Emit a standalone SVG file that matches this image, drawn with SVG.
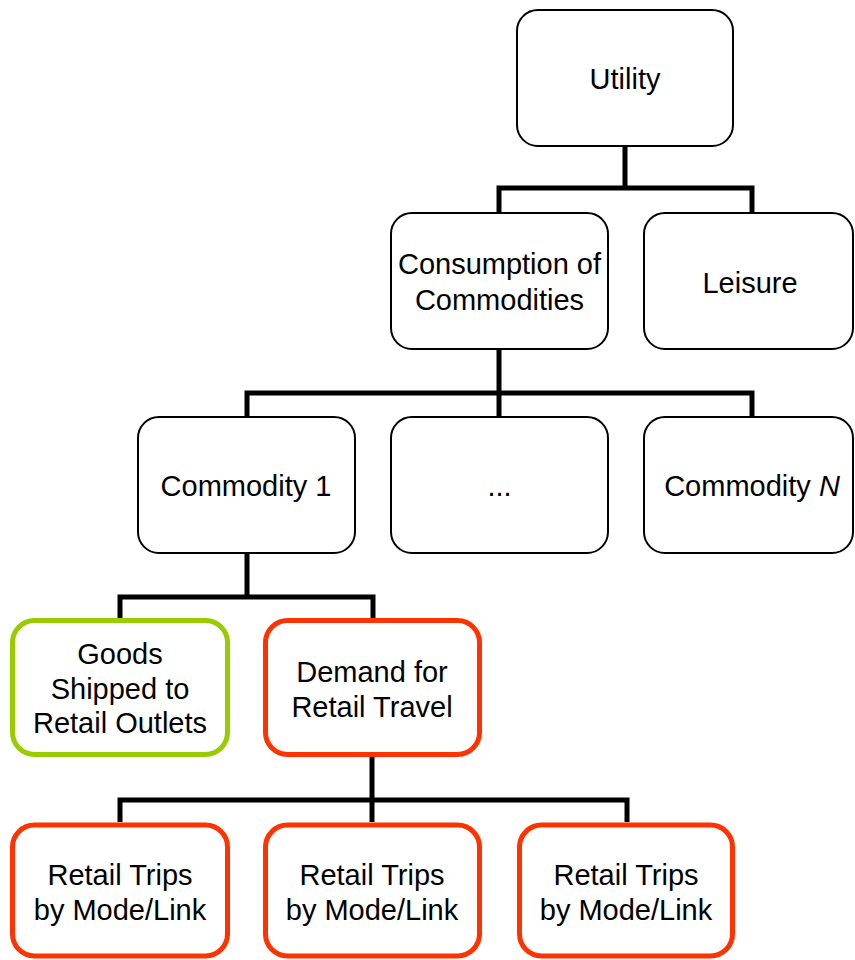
<svg xmlns="http://www.w3.org/2000/svg" width="855" height="960" viewBox="0 0 855 960">
<style>
.n{fill:#fff;stroke:#000;stroke-width:2}
.g{fill:#fff;stroke:#99CC00;stroke-width:5}
.r{fill:#fff;stroke:#FF3300;stroke-width:5}
.c{fill:none;stroke:#000;stroke-width:5;stroke-linejoin:miter;stroke-linecap:butt}
text{font-family:"Liberation Sans",Arial,sans-serif;font-size:29px;fill:#000;text-anchor:middle}
</style>
<rect width="855" height="960" fill="#fff"/>
<g id="connectors">
<path class="c" d="M625,146V188M499,213V188H752V213"/>
<path class="c" d="M499,349V393M247,417V393H752V417M499,393V417"/>
<path class="c" d="M247,553V597M120,618V597H373V618"/>
<path class="c" d="M372,757V800M120,822V800H627V822M372,800V822"/>
</g>
<g id="utility"><rect class="n" x="517" y="10" width="216" height="136" rx="21"/><text x="625" y="89">Utility</text></g>
<g id="consumption"><rect class="n" x="391" y="213" width="217" height="136" rx="21"/><text x="499.5" y="274">Consumption of</text><text x="499.5" y="310">Commodities</text></g>
<g id="leisure"><rect class="n" x="644" y="213" width="209" height="136" rx="21"/><text x="750" y="293">Leisure</text></g>
<g id="commodity1"><rect class="n" x="138" y="417" width="217" height="136" rx="21"/><text x="246" y="496">Commodity 1</text></g>
<g id="ellipsis"><rect class="n" x="391" y="417" width="217" height="136" rx="21"/><text x="499.5" y="496">...</text></g>
<g id="commodityN"><rect class="n" x="644" y="417" width="209" height="136" rx="21"/><text x="752" y="496">Commodity <tspan font-style="italic">N</tspan></text></g>
<g id="goods"><rect class="g" x="12.5" y="620.5" width="215" height="134" rx="22"/><text x="120" y="664">Goods</text><text x="120" y="699">Shipped to</text><text x="120" y="733">Retail Outlets</text></g>
<g id="demand"><rect class="r" x="265.5" y="620.5" width="214" height="134" rx="22"/><text x="372" y="682">Demand for</text><text x="372" y="717">Retail Travel</text></g>
<g id="trips1"><rect class="r" x="12.5" y="825" width="215" height="131" rx="22"/><text x="120" y="885">Retail Trips</text><text x="120" y="920">by Mode/Link</text></g>
<g id="trips2"><rect class="r" x="265.5" y="825" width="214" height="131" rx="22"/><text x="372" y="885">Retail Trips</text><text x="372" y="920">by Mode/Link</text></g>
<g id="trips3"><rect class="r" x="519.5" y="825" width="213" height="131" rx="22"/><text x="626" y="885">Retail Trips</text><text x="626" y="920">by Mode/Link</text></g>
</svg>
